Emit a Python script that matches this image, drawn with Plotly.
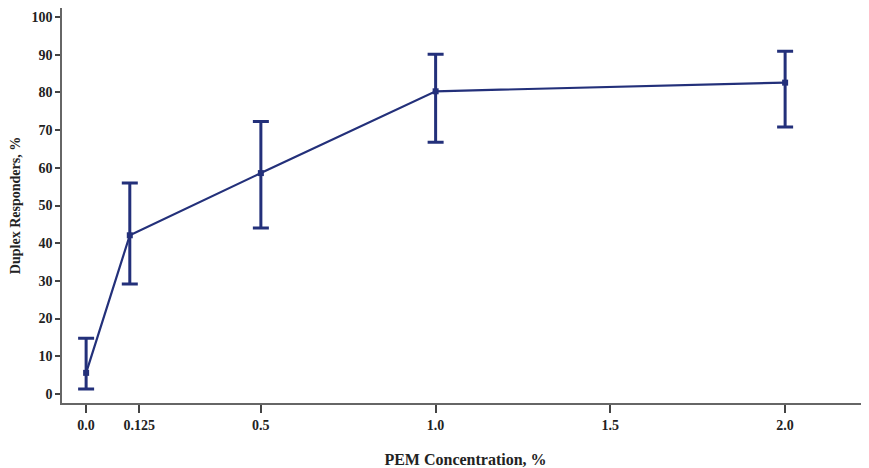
import plotly.graph_objects as go

conc = [0.0, 0.125, 0.5, 1.0, 2.0]
responders = [5.6, 42.1, 58.6, 80.3, 82.6]
err_upper = [14.8, 56.0, 72.3, 90.1, 90.9]
err_lower = [1.3, 29.2, 44.0, 66.8, 70.8]
x_tick_pos = [0.0, 0.152, 0.5, 1.0, 1.5, 2.0]
x_tick_text = ["0.0", "0.125", "0.5", "1.0", "1.5", "2.0"]
y_ticks = [0, 10, 20, 30, 40, 50, 60, 70, 80, 90, 100]

plus = [u - r for u, r in zip(err_upper, responders)]
minus = [r - l for r, l in zip(responders, err_lower)]

color = "#23307a"
font_family = "Liberation Serif, Times New Roman, serif"

fig = go.Figure()
fig.add_trace(go.Scatter(
    x=conc, y=responders, mode="lines+markers",
    line=dict(color=color, width=2.2),
    marker=dict(symbol="square", size=6, color=color),
    error_y=dict(type="data", symmetric=False, array=plus, arrayminus=minus,
                 color=color, thickness=3, width=8),
    showlegend=False,
))

# page body has an 8px default margin, so the figure is sized/offset to compensate
fig.update_layout(
    width=861, height=460,
    margin=dict(l=54, r=0, t=0, b=65),
    paper_bgcolor="white", plot_bgcolor="white",
    font=dict(family=font_family, color="#222222"),
    xaxis=dict(
        range=[-0.069, 2.24], tickvals=x_tick_pos, ticktext=x_tick_text,
        automargin=False,
        showline=True, linecolor="#666666", linewidth=1.5,
        ticks="outside", ticklen=8, tickcolor="#444444", tickwidth=1.5,
        showgrid=False, zeroline=False,
        tickfont=dict(family=font_family, size=14, color="#222222", weight="bold"),
        title=dict(text="PEM Concentration, %", standoff=28,
                   font=dict(family=font_family, size=16, color="#222222", weight="bold")),
    ),
    yaxis=dict(
        range=[-2.4, 102.4], tickvals=y_ticks,
        automargin=False,
        showline=True, linecolor="#666666", linewidth=1.5,
        ticks="outside", ticklen=5, tickcolor="#444444", tickwidth=1.5,
        showgrid=False, zeroline=False,
        tickfont=dict(family=font_family, size=14, color="#222222", weight="bold"),
        title=dict(text="Duplex Responders, %", standoff=8,
                   font=dict(family=font_family, size=14, color="#222222", weight="bold")),
    ),
)

fig.write_html("out.html")
